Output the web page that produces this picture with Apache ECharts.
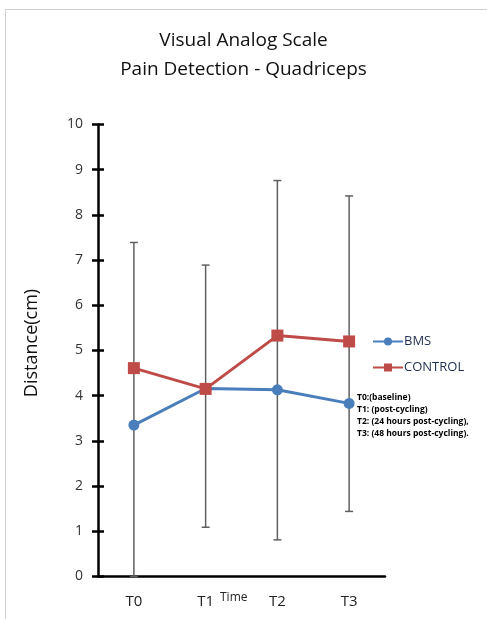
<!DOCTYPE html>
<html><head><meta charset="utf-8">
<script src="https://cdn.jsdelivr.net/npm/echarts@6/dist/echarts.min.js"></script>
<style>html,body{margin:0;padding:0;background:#fff}#c{width:487px;height:619px}</style>
</head><body><div id="c"></div>
<script>
const categories = ['T0', 'T1', 'T2', 'T3'];
const bmsValues = [3.35, 4.16, 4.13, 3.83];
const controlValues = [4.61, 4.15, 5.33, 5.2];
const errLow = [0, 1.09, 0.81, 1.44];
const errHigh = [7.39, 6.89, 8.76, 8.42];
const yTicks = [0, 1, 2, 3, 4, 5, 6, 7, 8, 9, 10];
const notes = ['T0:(baseline)', 'T1: (post-cycling)', 'T2: (24 hours post-cycling),', 'T3: (48 hours post-cycling).'];

const chart = echarts.init(document.getElementById('c'));
const errData = categories.map((c, i) => [i, errLow[i], errHigh[i]]);
const font = '"Open Sans", sans-serif';

chart.setOption({
  animation: false,
  backgroundColor: '#fff',
  title: {
    text: 'Visual Analog Scale\nPain Detection - Quadriceps',
    left: 'center', top: 21,
    textStyle: { fontFamily: font, fontSize: 19, fontWeight: 'normal', color: '#111', lineHeight: 29 }
  },
  legend: {
    orient: 'vertical', left: 367, top: 330, itemWidth: 30, itemHeight: 10, itemGap: 13,
    textStyle: { fontFamily: font, fontSize: 13, color: '#1f2f4f', padding: [0, 0, 0, -4] },
    data: ['BMS', 'CONTROL']
  },
  grid: { left: 98, right: 102, top: 124.5, bottom: 42.5 },
  xAxis: [{
    type: 'category', data: categories, boundaryGap: true,
    axisLine: { lineStyle: { color: '#000', width: 2.5 } },
    axisTick: { alignWithLabel: true, length: 5, lineStyle: { color: '#000', width: 2.5 } },
    axisLabel: { fontFamily: font, fontSize: 15, color: '#222', margin: 18 }
  }, {
    type: 'category', data: categories, boundaryGap: true, position: 'bottom',
    axisLine: { show: false },
    axisTick: { alignWithLabel: true, inside: true, length: 5, lineStyle: { color: '#000', width: 2.5 } },
    axisLabel: { show: false }
  }],
  yAxis: [{
    type: 'value', min: yTicks[0], max: yTicks[yTicks.length - 1], interval: 1,
    splitLine: { show: false },
    axisLine: { show: true, lineStyle: { color: '#000', width: 2.5 } },
    axisTick: { show: true, length: 6, lineStyle: { color: '#000', width: 2.5 } },
    axisLabel: { fontFamily: font, fontSize: 14, color: '#333', margin: 15 }
  }, {
    type: 'value', min: yTicks[0], max: yTicks[yTicks.length - 1], interval: 1, position: 'left',
    splitLine: { show: false }, axisLine: { show: false },
    axisTick: { show: true, inside: true, length: 6, lineStyle: { color: '#000', width: 2.5 } },
    axisLabel: { show: false }
  }],
  graphic: [
    { type: 'line', shape: { x1: 5.5, y1: 9, x2: 5.5, y2: 619 }, style: { stroke: '#d0d0d0', lineWidth: 1 }, silent: true },
    { type: 'line', shape: { x1: 5, y1: 9.5, x2: 487, y2: 9.5 }, style: { stroke: '#d0d0d0', lineWidth: 1 }, silent: true },
    { type: 'text', x: 32, y: 343, rotation: Math.PI / 2, style: { text: 'Distance(cm)', fontFamily: font, fontSize: 18, fill: '#111', align: 'center', verticalAlign: 'middle' } },
    { type: 'text', left: 220, top: 592, style: { text: 'Time', fontFamily: font, fontSize: 12, fill: '#222' } },
    { type: 'text', left: 357, top: 391, style: { text: notes.join('\n'), fontFamily: font, fontSize: 8.5, fontWeight: 'bold', lineHeight: 12.3, fill: '#000' } }
  ],
  series: [
    {
      type: 'custom', name: 'err', xAxisIndex: 0, yAxisIndex: 0, z: 1, silent: true,
      data: errData,
      renderItem: function (params, api) {
        const x = api.value(0);
        const lo = api.coord([x, api.value(1)]);
        const hi = api.coord([x, api.value(2)]);
        const w = 4;
        const st = { stroke: '#606060', lineWidth: 1.5 };
        return { type: 'group', children: [
          { type: 'line', shape: { x1: lo[0], y1: lo[1], x2: hi[0], y2: hi[1] }, style: st },
          { type: 'line', shape: { x1: hi[0] - w, y1: hi[1], x2: hi[0] + w, y2: hi[1] }, style: st },
          { type: 'line', shape: { x1: lo[0] - w, y1: lo[1], x2: lo[0] + w, y2: lo[1] }, style: st }
        ] };
      }
    },
    {
      name: 'BMS', type: 'line', data: bmsValues, z: 3,
      symbol: 'circle', symbolSize: 11,
      lineStyle: { color: '#4a7ebb', width: 3 }, itemStyle: { color: '#4a7ebb' }
    },
    {
      name: 'CONTROL', type: 'line', data: controlValues, z: 4,
      symbol: 'rect', symbolSize: 12,
      lineStyle: { color: '#be4b48', width: 3 }, itemStyle: { color: '#be4b48' }
    }
  ]
});
</script></body></html>
